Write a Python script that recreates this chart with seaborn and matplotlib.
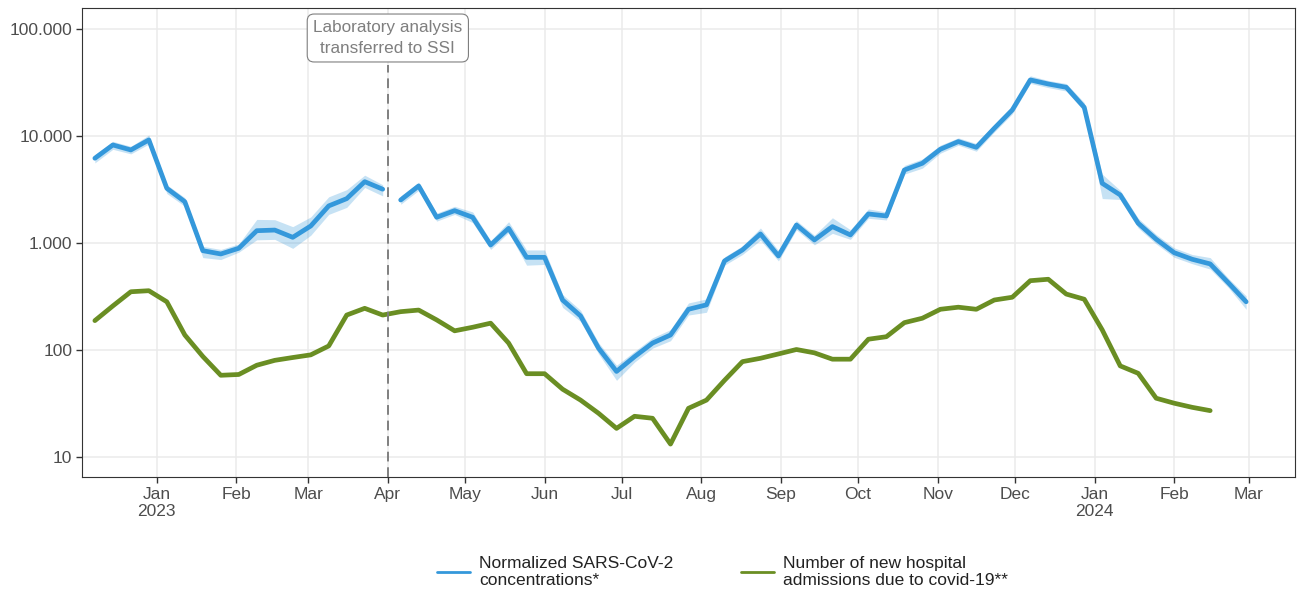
import numpy as np
import pandas as pd
import matplotlib
matplotlib.use("Agg")
import matplotlib.pyplot as plt
from matplotlib.lines import Line2D
from matplotlib.ticker import FuncFormatter, FixedLocator, NullLocator
import seaborn as sns

# --- Data (weekly) ---
START = "2022-12-08"
SPLIT_INDEX = 17  # first week after lab analysis moved to SSI

blue_values = [6190, 8240, 7400, 9180, 3240, 2430, 847, 789, 892, 1302,
               1320, 1129, 1441, 2220, 2596, 3740, 3180,
               2520, 3410, 1738, 2005, 1738, 957, 1370, 734, 734,
               293, 208, 104, 63, 86.5, 116, 138, 240, 264, 679,
               861, 1214, 756, 1472, 1067, 1422, 1189, 1867, 1788, 4810,
               5555, 7510, 8860, 7830, 11800, 17500, 33400, 30600, 28500, 18500,
               3610, 2810, 1528, 1083, 811, 704, 637, 426, 282]
blue_lo = [5600, 7500, 6800, 8400, 2900, 2200, 730, 700, 820, 1070,
           1080, 890, 1180, 1850, 2150, 3300, 2750,
           2300, 3100, 1600, 1850, 1550, 870, 1250, 620, 630,
           250, 185, 92, 52, 77, 104, 122, 212, 225, 620,
           780, 1060, 680, 1330, 960, 1230, 1080, 1700, 1640, 4400,
           5000, 6900, 8200, 7200, 10900, 16100, 31000, 28300, 26300, 17000,
           2600, 2550, 1380, 980, 735, 640, 570, 385, 240]
blue_hi = [6700, 8900, 8000, 10200, 3500, 2650, 930, 870, 980, 1660,
           1650, 1420, 1750, 2700, 3150, 4300, 3500,
           2750, 3700, 1900, 2200, 1950, 1050, 1580, 860, 860,
           330, 235, 117, 72, 97, 130, 155, 275, 300, 740,
           940, 1380, 850, 1620, 1180, 1720, 1330, 2080, 1950, 5300,
           6100, 8200, 9600, 8500, 12800, 19000, 36500, 33000, 30900, 20500,
           4400, 3100, 1700, 1200, 900, 780, 730, 470, 320]
green_values = [188, 258, 350, 358, 282, 138, 87, 58, 59, 72,
                80, 85, 90, 109, 212, 245, 212, 228, 236, 191,
                151, 163, 178, 116, 60, 60, 43, 34, 25.6, 18.5,
                24, 23, 13.2, 28.5, 34, 52, 77.8, 83.6, 91.8, 101,
                94, 82, 82, 126, 133, 180, 198, 240, 251, 240,
                293, 311, 444, 458, 333, 298, 154, 71, 60.5, 35.4,
                31.8, 29.1, 27.1]

LABEL_BLUE = "Normalized SARS-CoV-2\nconcentrations*"
LABEL_GREEN = "Number of new hospital\nadmissions due to covid-19**"
COLORS = {LABEL_BLUE: "#3498DB", LABEL_GREEN: "#6A8E23"}
GREY_TXT = "#4D4D4D"

blue_dates = pd.date_range(START, periods=len(blue_values), freq="7D")
green_dates = pd.date_range(START, periods=len(green_values), freq="7D")

blue_df = pd.DataFrame({
    "date": blue_dates, "value": blue_values, "series": LABEL_BLUE,
    "segment": [0 if i < SPLIT_INDEX else 1 for i in range(len(blue_values))],
})
green_df = pd.DataFrame({
    "date": green_dates, "value": green_values, "series": LABEL_GREEN, "segment": 2,
})
df = pd.concat([blue_df, green_df], ignore_index=True)

# --- Plot ---
sns.set_theme(style="white")
plt.rcParams["font.family"] = ["Liberation Sans", "DejaVu Sans"]

fig, ax = plt.subplots(figsize=(13.02, 5.96), dpi=100)
fig.subplots_adjust(left=0.063, right=0.9946, top=0.9866, bottom=0.1997)

# confidence ribbon for the wastewater series, split at the lab transfer
for sl in (slice(0, SPLIT_INDEX), slice(SPLIT_INDEX, None)):
    ax.fill_between(blue_dates[sl], blue_lo[sl], blue_hi[sl],
                    color="#3498DB", alpha=0.28, linewidth=0, zorder=2)

sns.lineplot(data=df, x="date", y="value", hue="series", units="segment",
             estimator=None, palette=COLORS, linewidth=3.4, legend=False,
             ax=ax, zorder=3)

ax.set_yscale("log")
ax.set_ylim(10 ** 0.813, 10 ** 5.196)
ax.set_xlim(pd.Timestamp("2022-12-03"), pd.Timestamp("2024-03-19"))

# y axis: Danish thousands separator
ax.yaxis.set_major_locator(FixedLocator([10, 100, 1000, 10000, 100000]))
ax.yaxis.set_minor_locator(NullLocator())
ax.yaxis.set_major_formatter(FuncFormatter(lambda v, _: f"{int(round(v)):,}".replace(",", ".")))

# x axis: month ticks with year under January
month_ticks = pd.date_range("2023-01-01", "2024-03-01", freq="MS")
month_labels = [d.strftime("%b") + (f"\n{d.year}" if d.month == 1 else "") for d in month_ticks]
ax.set_xticks(month_ticks)
ax.set_xticklabels(month_labels)
ax.xaxis.set_minor_locator(NullLocator())

ax.set_xlabel("")
ax.set_ylabel("")
ax.grid(True, which="major", color="#EBEBEB", linewidth=1.1, zorder=0)
ax.set_axisbelow(True)
for spine in ax.spines.values():
    spine.set_color("#333333")
    spine.set_linewidth(0.8)
ax.tick_params(axis="both", which="major", length=4, width=1, color="#333333",
               labelsize=12.5, labelcolor=GREY_TXT, direction="out", pad=3)
ax.tick_params(left=True, bottom=True)

# lab transfer marker
transfer = pd.Timestamp("2023-04-01")
ax.axvline(transfer, ymin=0, ymax=0.878, color="#7F7F7F", linestyle=(0, (5, 3)),
           linewidth=1.4, zorder=4)
ax.text(transfer, 0.936, "Laboratory analysis\ntransferred to SSI",
        transform=ax.get_xaxis_transform(), ha="center", va="center",
        fontsize=12.3, color="#7F7F7F", linespacing=1.5, zorder=5,
        bbox=dict(boxstyle="round,pad=0.35,rounding_size=0.4", fc="white",
                  ec="#7F7F7F", lw=0.8))

handles = [Line2D([0], [0], color=COLORS[LABEL_BLUE], lw=2),
           Line2D([0], [0], color=COLORS[LABEL_GREEN], lw=2)]
fig.legend(handles, [LABEL_BLUE, LABEL_GREEN], loc="center", ncol=2,
           bbox_to_anchor=(0.555, 0.04), frameon=False, fontsize=12.5,
           handlelength=1.9, columnspacing=3.9, handletextpad=0.5,
           labelcolor="#222222")

fig.savefig("out.png", dpi=100)
